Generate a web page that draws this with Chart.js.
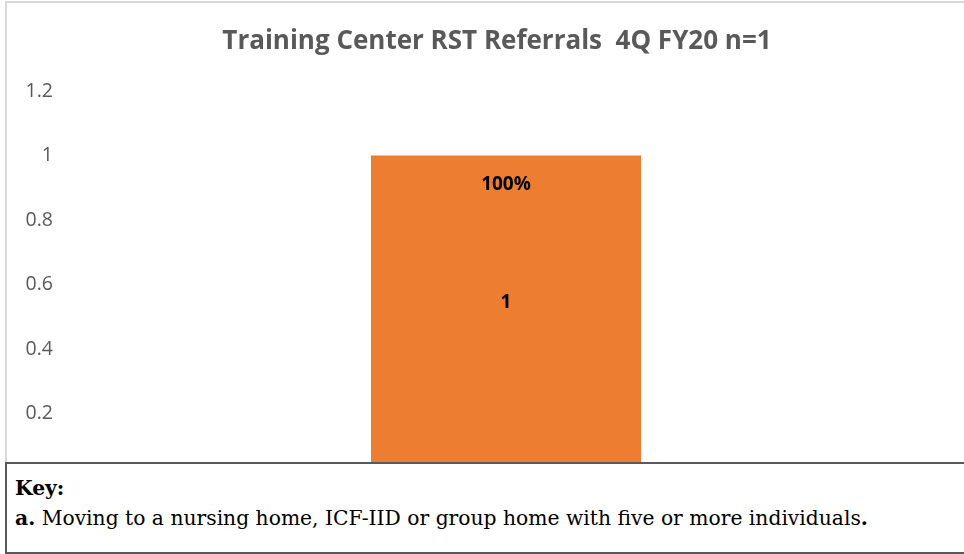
<!DOCTYPE html>
<html>
<head>
<meta charset="utf-8">
<script src="https://cdn.jsdelivr.net/npm/chart.js@4"></script>
<style>
  html, body { margin: 0; padding: 0; background: #fff; }
  #wrap { position: relative; width: 964px; height: 554px; overflow: hidden; }
  #frame {
    position: absolute; left: 5px; top: 1px; width: 980px; height: 600px;
    border-left: 2px solid #d9d9d9; border-top: 2px solid #d9d9d9;
  }
  #chartBox { position: absolute; left: 0; top: 0; width: 964px; height: 554px; }
  #key {
    position: absolute; left: 5px; top: 462px; width: 980px; height: 88px;
    border: 2px solid #595959; background: #fff;
    font-family: "DejaVu Serif", "Liberation Serif", serif; font-size: 20.3px; color: #000;
  }
  #key .k1 { position: absolute; left: 8px; top: 12px; font-weight: bold; line-height: 24px; }
  #key .k2 { position: absolute; left: 8px; top: 42px; line-height: 24px; }
</style>
</head>
<body>
<div id="wrap">
  <div id="frame"></div>
  <div id="chartBox"><canvas id="refChart"></canvas></div>
  <div id="key">
    <div class="k1">Key:</div>
    <div class="k2"><b>a.</b> Moving to a nursing home, ICF-IID or group home with five or more individuals<b>.</b></div>
  </div>
</div>
<script>
const chartTitle = 'Training Center RST Referrals  4Q FY20 n=1';
const categories = ['Training Center'];
const referralCounts = [1];
const percentLabels = ['100%'];
const tickValues = [0.2, 0.4, 0.6, 0.8, 1, 1.2];

// title sits a little left of the plot centre, like the original
const titleText = {
    id: 'titleText',
    afterDraw(chart) {
        const ctx = chart.ctx;
        const area = chart.chartArea;
        ctx.save();
        ctx.fillStyle = '#595959';
        ctx.font = 'bold 26px "Open Sans", sans-serif';
        ctx.textAlign = 'center';
        ctx.textBaseline = 'middle';
        ctx.fillText(chartTitle, (area.left + area.right) / 2 - 9, 42);
        ctx.restore();
    }
};

// draws the "100%" and count labels inside the bar
const barLabels = {
    id: 'barLabels',
    afterDatasetsDraw(chart) {
        const ctx = chart.ctx;
        const meta = chart.getDatasetMeta(0);
        ctx.save();
        ctx.fillStyle = '#000';
        ctx.font = 'bold 19px "Open Sans", sans-serif';
        ctx.textAlign = 'center';
        ctx.textBaseline = 'middle';
        meta.data.forEach((bar, i) => {
            ctx.fillText(percentLabels[i], bar.x, bar.y + 29);
            ctx.fillText(String(referralCounts[i]), bar.x, (bar.y + bar.base) / 2 - 14);
        });
        ctx.restore();
    }
};

const ctx = document.getElementById('refChart').getContext('2d');
new Chart(ctx, {
    type: 'bar',
    data: {
        labels: categories,
        datasets: [{
            data: referralCounts,
            backgroundColor: '#ed7d31',
            borderWidth: 0,
            categoryPercentage: 0.5,
            barPercentage: 0.6054
        }]
    },
    options: {
        responsive: true,
        maintainAspectRatio: false,
        animation: false,
        layout: { padding: { left: 0, right: 12, top: 91, bottom: 76 } },
        plugins: {
            legend: { display: false },
            tooltip: { enabled: false },
            title: { display: false }
        },
        scales: {
            x: { display: false },
            y: {
                min: 0,
                max: 1.2,
                afterBuildTicks(axis) {
                    axis.ticks = [0].concat(tickValues).map(v => ({ value: v }));
                },
                afterFit(axis) {
                    axis.width = 60;
                },
                grid: { display: false, drawTicks: false },
                border: { display: false },
                ticks: {
                    color: '#595959',
                    padding: 7,
                    font: { family: '"Open Sans", sans-serif', size: 19.5 },
                    callback: v => String(v)
                }
            }
        }
    },
    plugins: [barLabels, titleText]
});
</script>
</body>
</html>
